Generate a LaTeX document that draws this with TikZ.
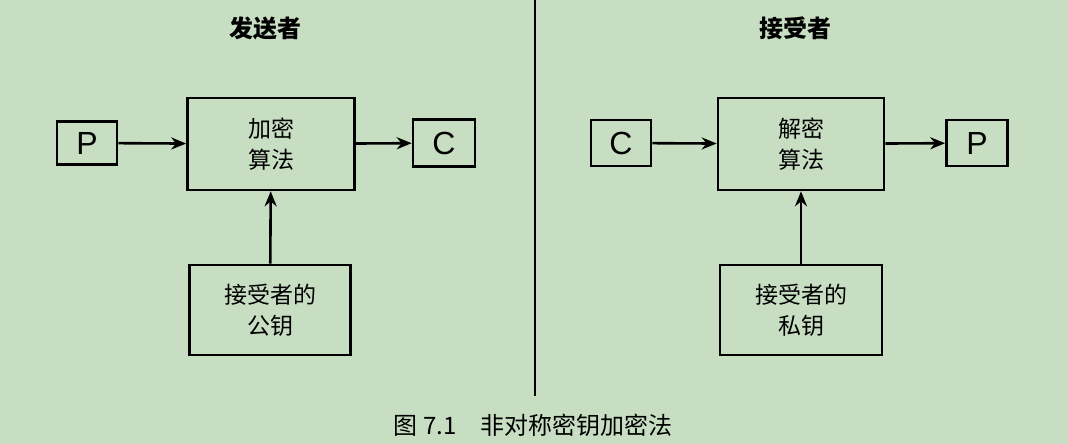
\documentclass[tikz,border=0pt]{standalone}
\usepackage{fontspec}
\setmainfont{Liberation Sans}
\newfontfamily\cjk{Noto Sans CJK SC}
\usetikzlibrary{arrows.meta}
\definecolor{bg}{RGB}{200,222,195}
\begin{document}
\begin{tikzpicture}[x=1pt,y=-1pt,
  box/.style={draw,line width=2.6pt,inner sep=0pt,font=\cjk\fontsize{23}{31}\selectfont,align=center},
  lt/.style={box,font=\fontsize{32}{34}\selectfont},
  arr/.style={line width=2.6pt,-{Stealth[length=15pt,width=12pt]}},
  ttl/.style={font=\cjk\bfseries\fontsize{24}{26}\selectfont}]
\fill[bg] (0,0) rectangle (1068,444);
\useasboundingbox (0,0) rectangle (1068,444);
\node[ttl] (t1) at (265,28) {发送者};
\node[ttl] (t2) at (795,28) {接受者};
\coordinate (vt) at (535,0); \coordinate (vb) at (535,396);
\draw[line width=2pt] (vt) -- (vb);
\node[lt,minimum width=60,minimum height=43] (p1) at (87,143) {P};
\node[box,minimum width=167,minimum height=92] (enc) at (271,144) {加密\\算法};
\node[lt,minimum width=62,minimum height=47] (c1) at (444,143) {C};
\node[box,minimum width=161,minimum height=90] (k1) at (270,310) {接受者的\\公钥};
\draw[arr] (p1) -- (enc);
\draw[arr] (enc) -- (c1);
\draw[arr] (k1) -- (enc);
\node[lt,minimum width=60,minimum height=46] (c2) at (621,143) {C};
\node[box,minimum width=166,minimum height=92] (dec) at (801,144) {解密\\算法};
\node[lt,minimum width=61,minimum height=46] (p2) at (977,143) {P};
\node[box,minimum width=162,minimum height=90] (k2) at (801,310) {接受者的\\私钥};
\draw[arr] (c2) -- (dec);
\draw[arr] (dec) -- (p2);
\draw[arr] (k2) -- (dec);
\node[font=\cjk\fontsize{24}{26}\selectfont] (cap) at (533,425) {图 7.1\quad 非对称密钥加密法};
\end{tikzpicture}
\end{document}
